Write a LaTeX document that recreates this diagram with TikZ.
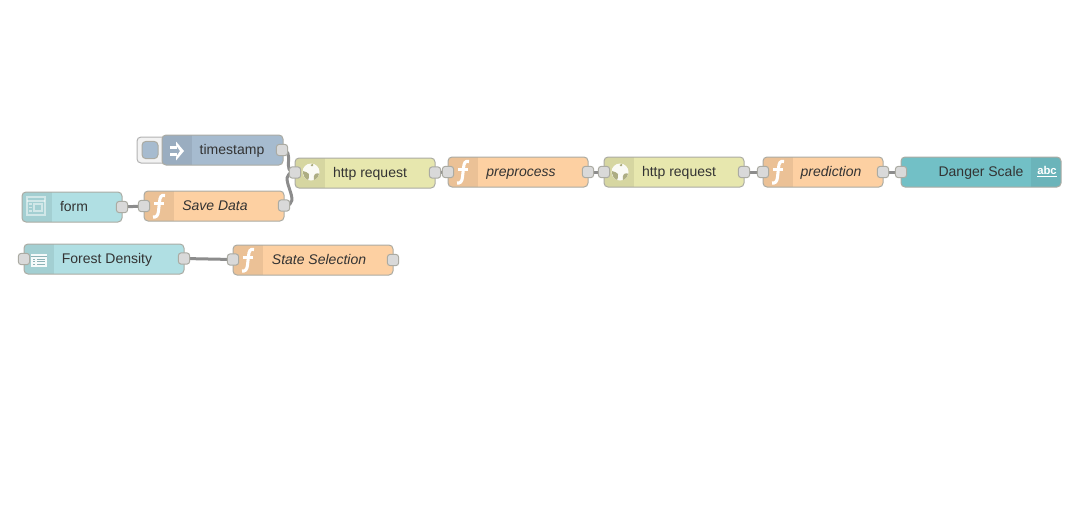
\documentclass[tikz,border=0pt]{standalone}
\usepackage{fontspec}
\setmainfont{Liberation Sans}
\usetikzlibrary{backgrounds}
\definecolor{edgegray}{HTML}{ABABA3}
\definecolor{wiregray}{HTML}{8C8C8C}
\definecolor{portgray}{HTML}{D9D9D9}
\definecolor{injectblue}{HTML}{A6BBCF}
\definecolor{funcorange}{HTML}{FDD0A2}
\definecolor{httpgreen}{HTML}{E7E7AE}
\definecolor{uiblue}{HTML}{B0DFE3}
\definecolor{textteal}{HTML}{72C0C6}
\definecolor{labelgray}{HTML}{333333}
\tikzset{
  flownode/.style={rectangle, draw=edgegray, line width=0.75pt, rounded corners=3pt,
    minimum height=22.5pt, inner sep=0pt},
  iconleft/.style={path picture={\fill[black, opacity=0.07, sharp corners]
    (path picture bounding box.north west) rectangle ([xshift=22.5pt]path picture bounding box.south west);}},
  iconright/.style={path picture={\fill[black, opacity=0.06, sharp corners]
    (path picture bounding box.north east) rectangle ([xshift=-22.5pt]path picture bounding box.south east);}},
  port/.style={rectangle, draw=edgegray, fill=portgray, line width=0.75pt, rounded corners=2.2pt,
    minimum size=8.5pt, inner sep=0pt},
  wire/.style={draw=wiregray, line width=2.25pt},
  nodetext/.style={text=labelgray, font=\fontsize{10.5pt}{12pt}\selectfont, inner sep=0pt,
    text height=8pt, text depth=2pt},
  functext/.style={nodetext, font=\fontsize{10.5pt}{12pt}\selectfont\itshape},
  funcglyph/.pic={
    \draw[white, line width=2.3pt] (6,-10.5) .. controls (2,-11.5) and (1,-9) .. (0.5,-4)
      -- (-0.5,5) .. controls (-1,10) and (-3,11.5) .. (-6,11);
    \draw[white, line width=1.7pt] (-5,-2.5) -- (5,-2.5);
  },
  globeglyph/.pic={
    \fill[white, opacity=0.9] (0,0) circle (8.5);
    \fill[httpgreen!75!black] (-8,-1) .. controls (-5,-1) and (-4,1) .. (-2,2)
      .. controls (-1,5) and (-3,7) .. (-3,8) .. controls (-7,6) and (-8,3) .. (-8,-1);
    \fill[httpgreen!75!black] (2,-8) .. controls (4,-6) and (1,-5) .. (0,-6)
      .. controls (-1,-7) and (0,-8) .. (2,-8);
    \fill[httpgreen!75!black] (4,2) .. controls (7,1) and (8,1) .. (8,2)
      .. controls (7,6) and (5,7) .. (3,8) .. controls (2,6) and (3,3) .. (4,2);
  },
  injectglyph/.pic={
    \fill[white] (-7,-5) rectangle (0,-2);
    \fill[white] (-7,2) rectangle (0,5);
    \fill[white] (-1,-9.5) -- (7,0) -- (-1,9.5) -- (-1,6) -- (3,0) -- (-1,-6) -- cycle;
  },
  formglyph/.pic={
    \draw[white, opacity=0.5, line width=0.9pt] (-9,-9) rectangle (9,9);
    \draw[white, opacity=0.5, line width=0.9pt] (-9,-5) -- (9,-5);
    \draw[white, opacity=0.5, line width=0.9pt] (-2,-2) rectangle (6,5);
    \draw[white, opacity=0.5, line width=0.9pt] (-7,-2) -- (-4,-2) (-7,1.5) -- (-4,1.5) (-7,5) -- (-4,5);
  },
  listglyph/.pic={
    \fill[white, opacity=0.9] (-8,-6.5) rectangle (8,6.5);
    \draw[uiblue!80!black, line width=0.75pt] (-8,-4) -- (8,-4);
    \draw[uiblue!80!black, line width=0.75pt] (-6,-1) -- (-4,-1) (-2,-1) -- (6,-1)
      (-6,1.5) -- (-4,1.5) (-2,1.5) -- (6,1.5) (-6,4) -- (-4,4) (-2,4) -- (6,4);
  }
}

\begin{document}
\begin{tikzpicture}[x=0.75pt, y=-0.75pt]
  \useasboundingbox (0,0) rectangle (1066,522);

  % inject button
  \node[flownode, fill=black!5, draw=black!30, minimum width=24pt, minimum height=19.5pt] (tsbutton) at (153,150) {};
  \node[flownode, fill=injectblue, draw=edgegray, minimum width=12pt, minimum height=13pt] (tsknob) at (150,150) {};

  % first row
  \node[flownode, iconleft, fill=injectblue, minimum width=90.75pt] (timestamp) at (222.5,150) {};
  \node[flownode, iconleft, fill=uiblue, minimum width=75pt] (form) at (72,207) {};
  \node[flownode, iconleft, fill=funcorange, minimum width=105pt] (save) at (214,206) {};
  \node[flownode, iconleft, fill=httpgreen, minimum width=105pt] (httpa) at (365,173) {};
  \node[flownode, iconleft, fill=funcorange, minimum width=105pt] (preprocess) at (518,172) {};
  \node[flownode, iconleft, fill=httpgreen, minimum width=105pt] (httpb) at (674,172) {};
  \node[flownode, iconleft, fill=funcorange, minimum width=90pt] (prediction) at (823,172) {};
  \node[flownode, iconright, fill=textteal, minimum width=120pt] (danger) at (981,172) {};

  % second row
  \node[flownode, iconleft, fill=uiblue, minimum width=120pt] (density) at (104,259) {};
  \node[flownode, iconleft, fill=funcorange, minimum width=120pt] (state) at (313,260) {};

  % labels
  \node[nodetext] (timestamptext) at (232,150) {timestamp};
  \node[nodetext] (formtext) at (74,207) {form};
  \node[functext] (savetext) at (215,206) {Save Data};
  \node[nodetext] (httpatext) at (370,173) {http request};
  \node[functext] (preprocesstext) at (521,172) {preprocess};
  \node[nodetext] (httpbtext) at (679,172) {http request};
  \node[functext] (predictiontext) at (831,172) {prediction};
  \node[nodetext] (dangertext) at (981,172) {Danger Scale};
  \node[nodetext] (densitytext) at (107,259) {Forest Density};
  \node[functext] (statetext) at (319,260) {State Selection};

  % icons
  \pic at (177,151) {injectglyph};
  \pic at (36,206) {formglyph};
  \pic at (159,206) {funcglyph};
  \pic at (311,172) {globeglyph};
  \pic at (463,172) {funcglyph};
  \pic at (620,172) {globeglyph};
  \pic at (778,172) {funcglyph};
  \pic at (39,260) {listglyph};
  \pic at (248,260) {funcglyph};
  \node[text=white, font=\fontsize{8.5pt}{10pt}\selectfont\bfseries, inner sep=0pt] (abc) at (1047,172) {\underline{abc}};

  % ports
  \node[port] (timestampout) at (282,150) {};
  \node[port] (formout) at (122,207) {};
  \node[port] (savein) at (144,206) {};
  \node[port] (saveout) at (284,205.5) {};
  \node[port] (httpain) at (295,172.5) {};
  \node[port] (httpaout) at (435,172.5) {};
  \node[port] (preprocessin) at (448,172) {};
  \node[port] (preprocessout) at (588,172) {};
  \node[port] (httpbin) at (604,172) {};
  \node[port] (httpbout) at (744,172) {};
  \node[port] (predictionin) at (763,172) {};
  \node[port] (predictionout) at (883,172) {};
  \node[port] (dangerin) at (901,172) {};
  \node[port] (densityin) at (24,259) {};
  \node[port] (densityout) at (184,258.5) {};
  \node[port] (statein) at (233,259.5) {};
  \node[port] (stateout) at (393,260) {};

  % wires
  \begin{scope}[on background layer]
    \draw[wire] (timestampout.center) .. controls +(14,0) and +(-14,0) .. (httpain.center);
    \draw[wire] (saveout.center) .. controls +(22,0) and +(-22,0) .. (httpain.center);
    \draw[wire] (formout.center) -- (savein.center);
    \draw[wire] (httpaout.center) -- (preprocessin.center);
    \draw[wire] (preprocessout.center) -- (httpbin.center);
    \draw[wire] (httpbout.center) -- (predictionin.center);
    \draw[wire] (predictionout.center) -- (dangerin.center);
    \draw[wire] (densityout.center) -- (statein.center);
  \end{scope}
\end{tikzpicture}
\end{document}
